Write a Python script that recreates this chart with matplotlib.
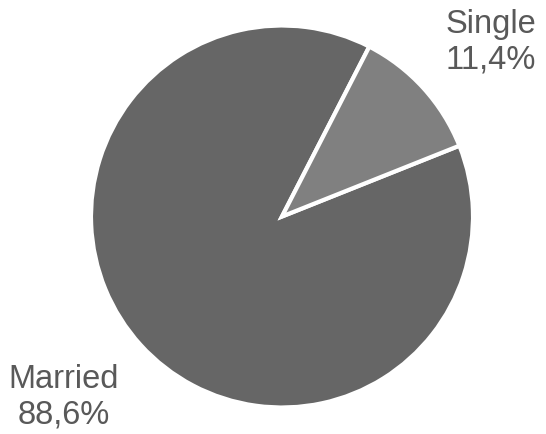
import matplotlib.pyplot as plt

labels = ["Married", "Single"]
values = [88.6, 11.4]
colors = ["#666666", "#808080"]
label_text = ["Married\n88,6%", "Single\n11,4%"]

fig = plt.figure(figsize=(5.46, 4.35), dpi=100)
W, H = 546, 435
cx, cy, r = 282, 217.5, 191
ax = fig.add_axes([(cx - r) / W, 1 - (cy + r) / H, 2 * r / W, 2 * r / H])
ax.pie(values, colors=colors, startangle=62.8, counterclock=True,
       wedgeprops=dict(edgecolor="white", linewidth=3))
ax.set_xlim(-1, 1)
ax.set_ylim(-1, 1)
ax.set_aspect("auto")
ax.axis("off")

font = dict(family="Liberation Sans", fontsize=23.5, color="#595959",
            ha="center", va="center", linespacing=1.2)
fig.text(64 / W, 1 - 397 / H, label_text[0], **font)
fig.text(491 / W, 1 - 42 / H, label_text[1], **font)

fig.savefig("out.png", dpi=100, facecolor="white")
